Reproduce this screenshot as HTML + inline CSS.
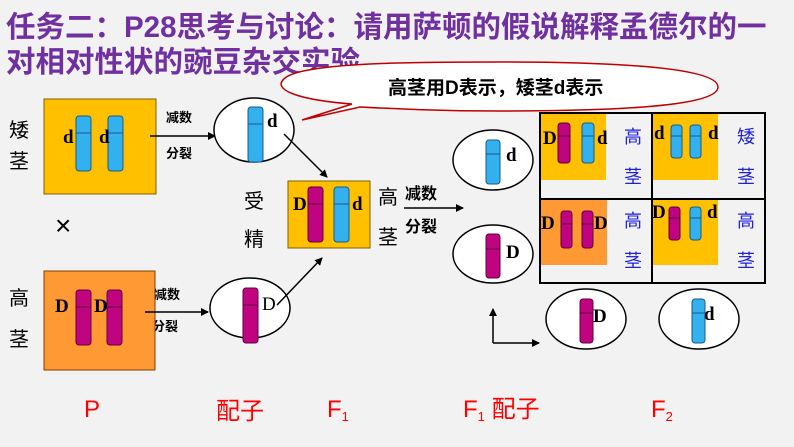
<!DOCTYPE html>
<html><head><meta charset="utf-8"><style>
body{margin:0;background:#f2f2f2;}
svg{display:block;font-family:"Liberation Sans","Noto Sans CJK SC",sans-serif;}
.t{font-family:"Liberation Serif","Noto Sans CJK SC",serif;font-weight:bold;font-size:19px;}
</style></head><body>
<svg width="794" height="447" viewBox="0 0 794 447" xmlns="http://www.w3.org/2000/svg">
<defs>
<marker id="a" markerWidth="8" markerHeight="8" refX="7" refY="4" orient="auto" markerUnits="userSpaceOnUse"><path d="M0,0 L8,4 L0,8 z" fill="#000"/></marker>
<g id="cb"><rect x="0" y="0" width="15" height="55" rx="3" fill="#33b0ee" stroke="#1a5a88" stroke-width="1"/><line x1="0" y1="17" x2="15" y2="17" stroke="#1a5a88"/></g>
<g id="cm"><rect x="0" y="0" width="15" height="55" rx="3" fill="#c0047f" stroke="#600040" stroke-width="1"/><line x1="0" y1="17" x2="15" y2="17" stroke="#600040"/></g>
</defs>
<rect width="794" height="447" fill="#f2f2f2"/>
<g font-size="29.5" font-weight="bold" fill="#7030a0">
<text x="6" y="37">任务二：P28思考与讨论：请用萨顿的假说解释孟德尔的一</text>
<text x="6" y="72">对相对性状的豌豆杂交实验</text>
</g>
<path d="M352,104 C300,100 270,90 285,78 C305,62 420,62 500,62 C620,62 718,68 718,87 C718,106 620,111 500,111 C440,111 400,109 360,107 L302,120 Z" fill="#fff" stroke="#c00000" stroke-width="1.5"/>
<text x="388" y="94" font-size="19" font-weight="bold">高茎用D表示，矮茎d表示</text>
<g font-size="20" fill="#000"><text x="9" y="137">矮</text><text x="9" y="168">茎</text><text x="9" y="305">高</text><text x="9" y="346">茎</text></g>
<rect x="44" y="99" width="112" height="95" fill="#ffc000" stroke="#7f6000"/>
<use href="#cb" x="76" y="116"/><use href="#cb" x="108" y="116"/>
<text class="t" x="63" y="143">d</text><text class="t" x="99" y="143">d</text>
<line x1="150" y1="136" x2="215" y2="136" stroke="#000" stroke-width="1.5" marker-end="url(#a)"/>
<g font-size="13" font-weight="bold"><text x="166" y="122">减数</text><text x="166" y="158">分裂</text>
<text x="154" y="299">减数</text><text x="152" y="331">分裂</text></g>
<ellipse cx="254" cy="130" rx="40" ry="32" fill="#fff" stroke="#000" stroke-width="1.5"/>
<use href="#cb" x="248" y="107"/>
<text class="t" x="267" y="127">d</text>
<line x1="284" y1="134" x2="327" y2="177" stroke="#000" stroke-width="1.5" marker-end="url(#a)"/>
<text x="55" y="235" font-size="28">×</text>
<rect x="44" y="271" width="111" height="99" fill="#ff9933" stroke="#7f4000"/>
<use href="#cm" x="76" y="290"/><use href="#cm" x="107" y="290"/>
<text class="t" x="55" y="312">D</text><text class="t" x="94" y="312">D</text>
<line x1="145" y1="312" x2="208" y2="312" stroke="#000" stroke-width="1.5" marker-end="url(#a)"/>
<ellipse cx="250" cy="308" rx="40" ry="30" fill="#fff" stroke="#000" stroke-width="1.5"/>
<use href="#cm" x="243" y="288"/>
<text x="262" y="310" font-size="19" font-family="Liberation Serif,serif">D</text>
<line x1="277" y1="305" x2="322" y2="258" stroke="#000" stroke-width="1.5" marker-end="url(#a)"/>
<g font-size="20"><text x="244" y="208">受</text><text x="244" y="246">精</text><text x="378" y="204">高</text><text x="378" y="244">茎</text></g>
<rect x="288" y="181" width="82" height="67" fill="#ffc000" stroke="#7f6000"/>
<use href="#cm" x="308" y="187"/><use href="#cb" x="334" y="187"/>
<text class="t" x="293" y="210">D</text><text class="t" x="352" y="210">d</text>
<g font-size="16" font-weight="bold"><text x="405" y="199">减数</text><text x="405" y="232">分裂</text></g>
<line x1="404" y1="208" x2="463" y2="208" stroke="#000" stroke-width="1.5" marker-end="url(#a)"/>
<ellipse cx="493" cy="160" rx="40" ry="30" fill="#fff" stroke="#000" stroke-width="1.5"/>
<rect x="486" y="140" width="14" height="44" rx="3" fill="#33b0ee" stroke="#1a5a88"/><line x1="486" y1="154" x2="500" y2="154" stroke="#1a5a88"/>
<text class="t" x="506" y="161">d</text>
<ellipse cx="493" cy="254" rx="40" ry="29" fill="#fff" stroke="#000" stroke-width="1.5"/>
<rect x="486" y="234" width="14" height="44" rx="3" fill="#c0047f" stroke="#600040"/><line x1="486" y1="249" x2="500" y2="249" stroke="#600040"/>
<text class="t" x="506" y="258">D</text>
<rect x="540" y="113" width="225" height="170" fill="#f2f2f2" stroke="#000" stroke-width="2"/>
<line x1="652" y1="113" x2="652" y2="283" stroke="#000" stroke-width="2"/>
<line x1="540" y1="199" x2="765" y2="199" stroke="#000" stroke-width="2"/>
<rect x="541" y="114" width="65" height="66" fill="#ffc000"/>
<rect x="653" y="114" width="65" height="66" fill="#ffc000"/>
<rect x="541" y="200" width="66" height="65" fill="#ff9933"/>
<rect x="653" y="200" width="65" height="65" fill="#ffc000"/>
<g stroke-width="1">
<rect x="558" y="123" width="12" height="40" rx="3" fill="#c0047f" stroke="#600040"/><line x1="558" y1="136" x2="570" y2="136" stroke="#600040"/>
<rect x="582" y="123" width="12" height="40" rx="3" fill="#33b0ee" stroke="#1a5a88"/><line x1="582" y1="136" x2="594" y2="136" stroke="#1a5a88"/>
<rect x="671" y="125" width="11" height="33" rx="3" fill="#33b0ee" stroke="#1a5a88"/><line x1="671" y1="136" x2="682" y2="136" stroke="#1a5a88"/>
<rect x="690" y="125" width="11" height="33" rx="3" fill="#33b0ee" stroke="#1a5a88"/><line x1="690" y1="136" x2="701" y2="136" stroke="#1a5a88"/>
<rect x="561" y="211" width="11" height="37" rx="3" fill="#c0047f" stroke="#600040"/><line x1="561" y1="224" x2="572" y2="224" stroke="#600040"/>
<rect x="582" y="211" width="11" height="37" rx="3" fill="#c0047f" stroke="#600040"/><line x1="582" y1="224" x2="593" y2="224" stroke="#600040"/>
<rect x="669" y="207" width="11" height="33" rx="3" fill="#c0047f" stroke="#600040"/><line x1="669" y1="218" x2="680" y2="218" stroke="#600040"/>
<rect x="690" y="207" width="11" height="33" rx="3" fill="#33b0ee" stroke="#1a5a88"/><line x1="690" y1="218" x2="701" y2="218" stroke="#1a5a88"/>
</g>
<g>
<text class="t" x="543" y="144" font-size="17">D</text><text class="t" x="597" y="144" font-size="17">d</text>
<text class="t" x="654" y="139" font-size="17">d</text><text class="t" x="708" y="139" font-size="17">d</text>
<text class="t" x="541" y="229" font-size="17">D</text><text class="t" x="594" y="229" font-size="17">D</text>
<text class="t" x="652" y="218" font-size="17">D</text><text class="t" x="707" y="218" font-size="17">d</text>
</g>
<g font-size="18" fill="#2020e0">
<text x="624" y="143">高</text><text x="624" y="183">茎</text>
<text x="737" y="143">矮</text><text x="737" y="183">茎</text>
<text x="624" y="227">高</text><text x="624" y="267">茎</text>
<text x="737" y="227">高</text><text x="737" y="267">茎</text>
</g>
<ellipse cx="586" cy="319" rx="40" ry="30" fill="#fff" stroke="#000" stroke-width="1.5"/>
<rect x="580" y="299" width="13" height="44" rx="3" fill="#c0047f" stroke="#600040"/><line x1="580" y1="313" x2="593" y2="313" stroke="#600040"/>
<text class="t" x="593" y="322">D</text>
<ellipse cx="699" cy="319" rx="40" ry="30" fill="#fff" stroke="#000" stroke-width="1.5"/>
<rect x="692" y="299" width="13" height="44" rx="3" fill="#33b0ee" stroke="#1a5a88"/><line x1="692" y1="313" x2="705" y2="313" stroke="#1a5a88"/>
<text class="t" x="704" y="320">d</text>
<line x1="493" y1="343" x2="493" y2="309" stroke="#000" stroke-width="1.5" marker-end="url(#a)"/>
<line x1="493" y1="343" x2="539" y2="343" stroke="#000" stroke-width="1.5" marker-end="url(#a)"/>
<g fill="#ff0000" font-size="24">
<text x="84" y="417">P</text>
<text x="216" y="419">配子</text>
<text x="327" y="417">F<tspan font-size="13" dy="4">1</tspan></text>
<text x="463" y="417">F<tspan font-size="13" dy="4">1</tspan><tspan dy="-4"> 配子</tspan></text>
<text x="651" y="417">F<tspan font-size="13" dy="4">2</tspan></text>
</g>
</svg>
</body></html>
